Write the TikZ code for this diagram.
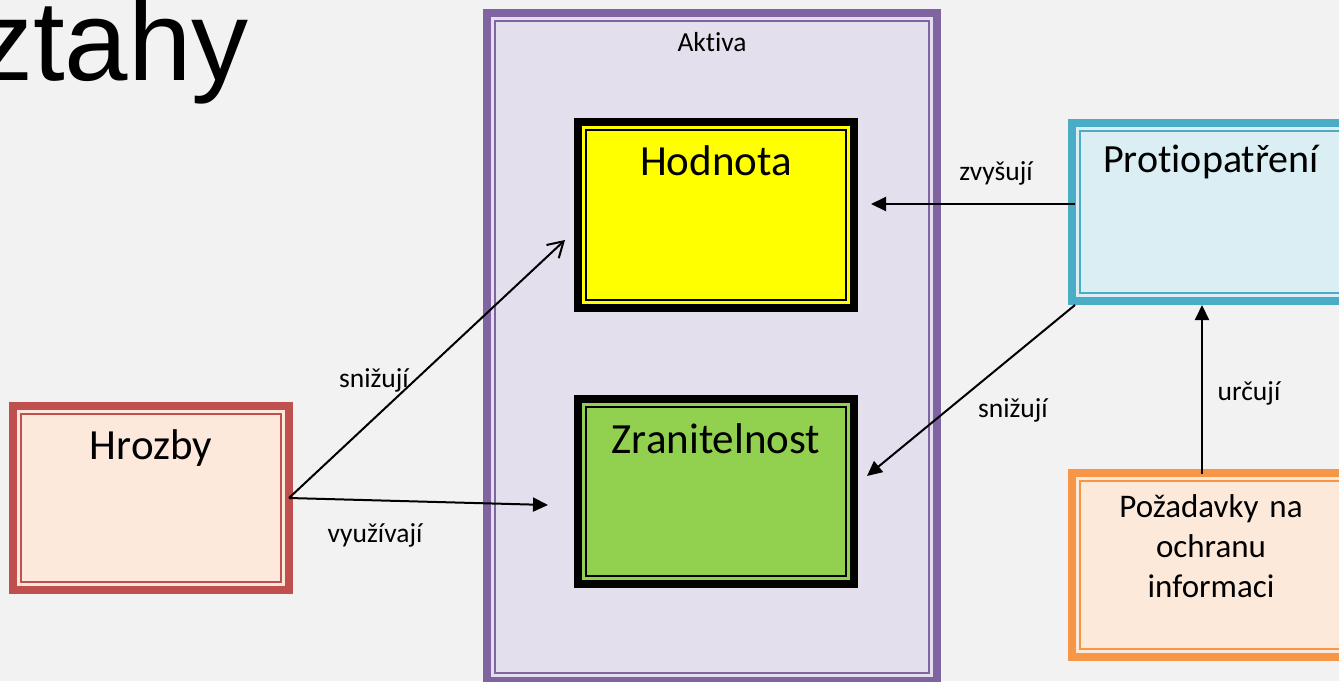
\documentclass[tikz,border=0pt]{standalone}
\usepackage{fontspec}
\setmainfont{Carlito}[Ligatures=NoCommon]
\newfontfamily\titlefam{Liberation Sans}
\usetikzlibrary{arrows.meta}

\definecolor{bgcol}{HTML}{F2F2F2}
\definecolor{aktivaline}{HTML}{8064A2}
\definecolor{aktivafill}{HTML}{E4DFEC}
\definecolor{hrozbyline}{HTML}{C0504D}
\definecolor{hrozbyfill}{HTML}{FCE9DB}
\definecolor{protioline}{HTML}{4BACC6}
\definecolor{protiofill}{HTML}{DAEEF3}
\definecolor{pozadline}{HTML}{F79646}
\definecolor{pozadfill}{HTML}{FDE9D9}
\definecolor{hodnotafill}{HTML}{FFFF00}
\definecolor{zranitfill}{HTML}{92D050}

\newcommand{\titlefont}{\titlefam\fontsize{114}{120}\selectfont}
\newcommand{\bigfont}{\fontsize{43}{50}\selectfont}
\newcommand{\protfont}{\fontsize{40}{48}\selectfont}
\newcommand{\midfont}{\fontsize{33}{40}\selectfont}
\newcommand{\smallfont}{\fontsize{27.5}{32}\selectfont}

\tikzset{
    box/.style={draw=#1, line width=8pt, inner sep=0pt, outer sep=0pt, align=center},
    link/.style={-{Triangle[length=15pt,width=14pt]}, line width=2pt},
    openlink/.style={-{Straight Barb[length=15pt,width=18pt]}, line width=2pt},
    tag/.style={anchor=base, inner sep=0pt, font=\smallfont}
}

\begin{document}
\begin{tikzpicture}[x=1pt,y=1pt,yscale=-1,xscale=1]
    \useasboundingbox[fill=bgcol] (0,0) rectangle (1339,681);

    % Title
    \node[anchor=base west, inner sep=0pt, font=\titlefont] (title) at (-24,80) {ztahy};

    % Aktiva with Hodnota and Zranitelnost
    \node[box=aktivaline, fill=aktivafill, text width=450pt, text height=38pt, text depth=630pt, font=\smallfont] (aktiva) at (712,347) {Aktiva};
    \node[box=black, fill=hodnotafill, text width=276pt, text height=53pt, text depth=133pt, font=\bigfont] (hodnota) at (716,215) {Hodnota};
    \node[box=black, fill=zranitfill, text width=276pt, text height=54pt, text depth=131pt, font=\bigfont] (zranit) at (716,491.5) {Zranitelnost};

    % Hrozby
    \node[box=hrozbyline, fill=hrozbyfill, text width=276pt, text height=53pt, text depth=131pt, font=\bigfont] (hrozby) at (151,498) {Hrozby};

    % Protiopatreni and Pozadavky
    \node[box=protioline, fill=protiofill, text width=278pt, text height=49pt, text depth=129pt, font=\protfont] (protio) at (1211,212) {Protiopatření};
    \node[box=pozadline, fill=pozadfill, text width=278pt, text height=44pt, text depth=140pt, font=\midfont] (pozad) at (1211,565) {Požadavky na\\ochranu\\informaci};

    % inner thin frames
    \foreach \n/\c in {aktiva/aktivaline, hodnota/black, zranit/black, hrozby/hrozbyline, protio/protioline, pozad/pozadline}
        \draw[draw=\c, line width=2pt] ([shift={(8,8)}]\n.north west) rectangle ([shift={(-8,-8)}]\n.south east);

    % Connectors
    \draw[openlink] (hrozby.east) -- ([shift={(-13,25)}]hodnota.west);
    \draw[link] (hrozby.east) -- ([shift={(-30,13.5)}]zranit.west);
    \draw[link] ([shift={(3,-8)}]protio.west) -- ([shift={(17,-11)}]hodnota.east);
    \draw[link] ([shift={(3,4)}]protio.south west) -- ([shift={(13,-15.5)}]zranit.east);
    \draw[link] ([shift={(-9,1)}]pozad.north) -- ([shift={(-9,4)}]protio.south);

    % Labels
    \node[tag] (lblSnizA) at (374,387) {snižují};
    \node[tag] (lblVyuz) at (375,542) {využívají};
    \node[tag] (lblZvys) at (996,180) {zvyšují};
    \node[tag] (lblSnizB) at (1013,417) {snižují};
    \node[tag] (lblUrc) at (1249,400) {určují};
\end{tikzpicture}
\end{document}
